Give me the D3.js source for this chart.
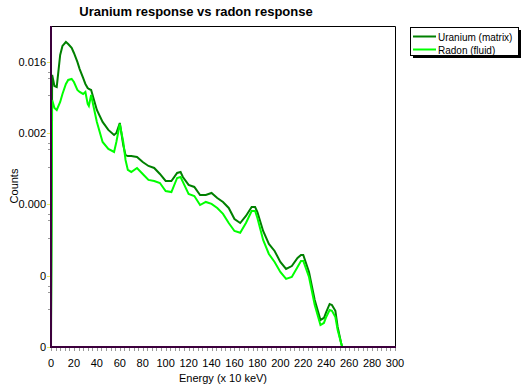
<!DOCTYPE html>
<html lang="en">
<head>
  <meta charset="UTF-8" />
  <title>Uranium response vs radon response</title>
  <style>
    html, body { margin: 0; padding: 0; background: #ffffff; }
    svg { display: block; font-family: "Liberation Sans", Arial, sans-serif; }
  </style>
</head>
<body>
  <script src="https://d3js.org/d3.v7.min.js"></script>
  <script>
    // energy channels (x 10 keV)
    const energy = [0, 1, 3, 5, 8, 10, 13, 15, 18, 20, 23, 25, 28, 30, 32, 33, 35, 37, 40, 45,
      50, 55, 57, 60, 63, 65, 67, 70, 75, 80, 85, 90, 95, 100, 105, 110, 113, 115, 120, 125,
      130, 135, 140, 145, 150, 155, 160, 165, 170, 175, 178, 180, 185, 190, 195, 200, 205, 210,
      215, 218, 220, 225, 230, 235, 238, 240, 243, 245, 248, 250, 253, 254];

    const uranium = [0.0000039, 0.0109, 0.00788, 0.00765, 0.0195, 0.0253, 0.0284, 0.0268, 0.0239, 0.0206,
      0.0159, 0.0129, 0.00995, 0.00835, 0.00743, 0.00722, 0.00701, 0.00555, 0.00391, 0.00276,
      0.00219, 0.00189, 0.00200, 0.00268, 0.00141, 0.00105, 0.00102, 0.00102, 0.000994, 0.000860,
      0.000765, 0.000722, 0.000606, 0.000494, 0.000494, 0.000624, 0.000642, 0.000555, 0.000440, 0.000415,
      0.000328, 0.000328, 0.000348, 0.000301, 0.000268, 0.000225, 0.000163, 0.000145, 0.000178, 0.000231,
      0.000231, 0.000200, 0.000115, 0.0000787, 0.0000642, 0.0000466, 0.0000380, 0.0000414,
      0.0000523, 0.0000571, 0.0000571, 0.0000348, 0.0000154, 0.00000859, 0.00000910, 0.0000108,
      0.0000137, 0.0000133, 0.0000112, 0.00000700, 0.00000439, 0.0000039];

    const radon = [0.00000859, 0.00524, 0.00415, 0.00391, 0.00494, 0.00624, 0.00835, 0.00939, 0.00966, 0.00885,
      0.00701, 0.00662, 0.00624, 0.00662, 0.00466, 0.00440, 0.00606, 0.00440, 0.00276, 0.00154,
      0.00126, 0.00115, 0.00154, 0.00260, 0.00154, 0.000911, 0.000681, 0.000642, 0.000722, 0.000606,
      0.000509, 0.000494, 0.000466, 0.000369, 0.000358, 0.000539, 0.000555, 0.000480, 0.000338, 0.000319,
      0.000245, 0.000268, 0.000253, 0.000225, 0.000189, 0.000145, 0.000115, 0.000109, 0.000145, 0.000206,
      0.000206, 0.000168, 0.0000884, 0.0000588, 0.0000466, 0.0000348, 0.0000284, 0.0000301,
      0.0000403, 0.0000480, 0.0000480, 0.0000301, 0.0000133, 0.00000742, 0.00000787, 0.00000937,
      0.0000115, 0.0000112, 0.00000937, 0.00000642, 0.00000439, 0.0000039];

    const seriesNames = ["Uranium (matrix)", "Radon (fluid)"];
    const seriesColors = ["#008000", "#00ff00"];

    // log axis steps by a factor of 8
    const yTicks = [0.016 / 4096, 0.016 / 512, 0.016 / 64, 0.016 / 8, 0.016];
    const yTickLabels = ["0", "0", "0.000", "0.002", "0.016"];
    const xTicks = d3.range(0, 301, 20);

    const width = 532, height = 388;
    const margin = { top: 26, right: 137, bottom: 41, left: 51 };
    const plotW = width - margin.left - margin.right;
    const plotH = height - margin.top - margin.bottom;

    const x = d3.scaleLinear().domain([0, 300]).range([0, plotW]);
    const y = d3.scaleLog().base(8)
      .domain([0.016 / 4096, 0.016 * Math.sqrt(8)])
      .range([plotH, 0]);

    const svg = d3.select("body").append("svg")
      .attr("width", width)
      .attr("height", height);

    svg.append("text")
      .attr("x", 196).attr("y", 16)
      .attr("text-anchor", "middle")
      .style("font-size", "13px").style("font-weight", "bold")
      .text("Uranium response vs radon response");

    const g = svg.append("g").attr("transform", `translate(${margin.left},${margin.top})`);

    // frame top/right
    g.append("path")
      .attr("d", `M0,0.5H${plotW + 0.5}V${plotH}`)
      .attr("fill", "none").attr("stroke", "#000").attr("stroke-width", 1);

    // minor y ticks
    const yMinor = [];
    yTicks.slice(0, -1).forEach(t => [3, 5, 6].forEach(m => yMinor.push(t * m)));
    yMinor.push(0.016 * 3);
    g.selectAll(".ymin").data(yMinor.filter(v => y(v) >= 0)).join("line")
      .attr("x1", -3).attr("x2", 0)
      .attr("y1", d => Math.round(y(d)) + 0.5).attr("y2", d => Math.round(y(d)) + 0.5)
      .attr("stroke", "#999");

    g.selectAll(".ymaj").data(yTicks).join("line")
      .attr("x1", -4).attr("x2", 0)
      .attr("y1", d => Math.round(y(d)) + 0.5).attr("y2", d => Math.round(y(d)) + 0.5)
      .attr("stroke", "#e8e860");

    g.selectAll(".ylab").data(yTicks).join("text")
      .attr("x", -5).attr("y", d => y(d) + 4)
      .attr("text-anchor", "end")
      .style("font-size", "11px")
      .text((d, i) => yTickLabels[i]);

    // x ticks
    g.selectAll(".xmin").data(d3.range(0, 301, 4)).join("line")
      .attr("x1", d => Math.round(x(d)) + 0.5).attr("x2", d => Math.round(x(d)) + 0.5)
      .attr("y1", plotH).attr("y2", plotH + 4)
      .attr("stroke", "#999");

    g.selectAll(".xlab").data(xTicks).join("text")
      .attr("x", d => x(d)).attr("y", plotH + 20)
      .attr("text-anchor", "middle")
      .style("font-size", "11px")
      .text(d => d);

    g.append("text")
      .attr("x", plotW / 2).attr("y", plotH + 35)
      .attr("text-anchor", "middle")
      .style("font-size", "11px")
      .text("Energy (x 10 keV)");

    svg.append("text")
      .attr("transform", "translate(18,186) rotate(-90)")
      .attr("text-anchor", "middle")
      .style("font-size", "11px")
      .text("Counts");

    // curves
    g.append("clipPath").attr("id", "plotclip")
      .append("rect").attr("x", 0).attr("y", 0).attr("width", plotW).attr("height", plotH);

    const line = d3.line()
      .x(d => x(d[0]))
      .y(d => y(d[1]));

    [uranium, radon].forEach((vals, i) => {
      g.append("path")
        .datum(energy.map((e, j) => [e, vals[j]]))
        .attr("clip-path", "url(#plotclip)")
        .attr("fill", "none")
        .attr("stroke", seriesColors[i])
        .attr("stroke-width", 2)
        .attr("d", line);
    });

    // axes left/bottom
    g.append("path")
      .attr("d", `M0,0V${plotH}H${plotW + 1}`)
      .attr("fill", "none").attr("stroke", "#3c003c").attr("stroke-width", 2);

    // legend
    const lg = svg.append("g").attr("transform", "translate(410,27)");
    lg.append("rect").attr("x", 3).attr("y", 3).attr("width", 108).attr("height", 28).attr("fill", "#000");
    lg.append("rect").attr("x", 0.5).attr("y", 0.5).attr("width", 108).attr("height", 28)
      .attr("fill", "#fff").attr("stroke", "#000");
    seriesNames.forEach((name, i) => {
      lg.append("line")
        .attr("x1", 3).attr("x2", 26)
        .attr("y1", 9.5 + i * 13).attr("y2", 9.5 + i * 13)
        .attr("stroke", seriesColors[i]).attr("stroke-width", 2);
      lg.append("text")
        .attr("x", 28).attr("y", 13.5 + i * 13)
        .style("font-size", "10px")
        .text(name);
    });
  </script>
</body>
</html>
